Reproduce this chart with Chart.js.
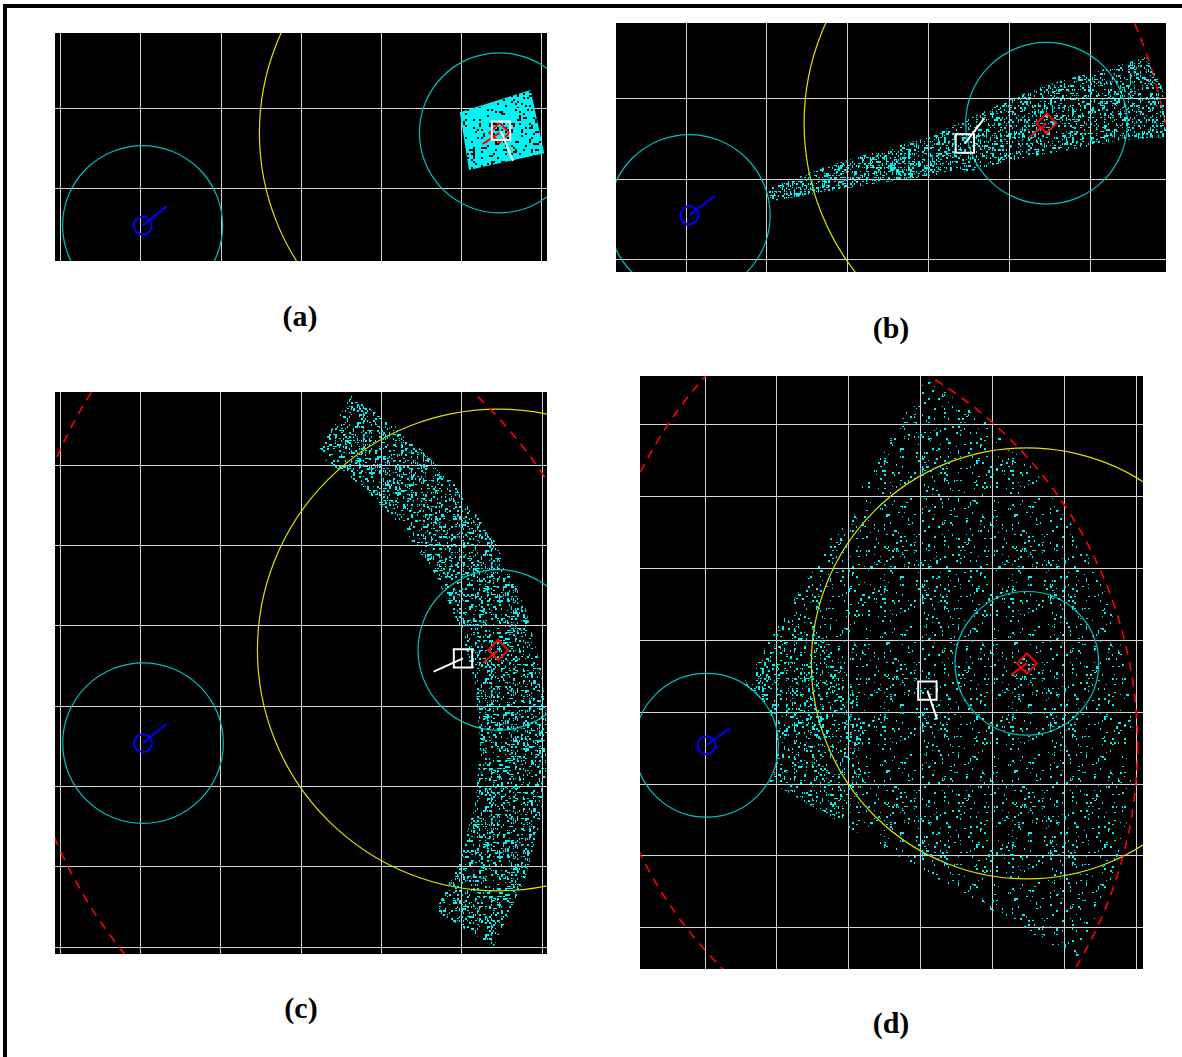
<!DOCTYPE html>
<html>
<head>
<meta charset="utf-8">
<script src="https://cdn.jsdelivr.net/npm/chart.js@4.4.1/dist/chart.umd.min.js"></script>
<style>
  html, body { margin: 0; padding: 0; background: #fff; }
  body { width: 1182px; height: 1057px; position: relative; overflow: hidden; }
  .frame { position: absolute; left: 3px; top: 4px; width: 1179px; height: 1053px;
           border-top: 4px solid #000; border-left: 4px solid #000; box-sizing: border-box; }
  .panel { position: absolute; background: #000; }
  .cap { position: absolute; width: 120px; height: 34px; line-height: 34px; text-align: center;
         font: bold 30px "Liberation Serif", "Times New Roman", serif; color: #000; }
</style>
</head>
<body>
<div class="frame"></div>

<div class="panel" style="left:55px;top:33px;width:492px;height:228px"><canvas id="chartA"></canvas></div>
<div class="panel" style="left:616px;top:23px;width:550px;height:249px"><canvas id="chartB"></canvas></div>
<div class="panel" style="left:55px;top:392px;width:492px;height:562px"><canvas id="chartC"></canvas></div>
<div class="panel" style="left:640px;top:376px;width:503px;height:593px"><canvas id="chartD"></canvas></div>

<div class="cap" style="left:240px;top:299px">(a)</div>
<div class="cap" style="left:831px;top:311px">(b)</div>
<div class="cap" style="left:241px;top:991px">(c)</div>
<div class="cap" style="left:831px;top:1006px">(d)</div>

<script>
// panel extents, in grid units (one grid cell = 1)
const xRanges = [[-0.075, 6.075], [-0.868, 5.939], [-0.066, 6.061], [-0.905, 6.096]];
const yRanges = [[-0.9125, 1.9375], [-1.151, 1.931], [-3.086, 3.913], [-3.574, 4.679]];
const gridX = [[0, 1, 2, 3, 4, 5, 6], [0, 1, 2, 3, 4, 5], [0, 1, 2, 3, 4, 5, 6], [0, 1, 2, 3, 4, 5, 6]];
const gridY = [[0, 1], [-1, 0, 1], [-3, -2, -1, 0, 1, 2, 3], [-3, -2, -1, 0, 1, 2, 3, 4]];

// own ship (blue) and its heading tip
const shipPos = [[1.02, -0.47], [0.04, -0.45], [1.03, -0.46], [0.02, -0.46]];
const shipHead = [[1.32, -0.23], [0.35, -0.21], [1.33, -0.215], [0.34, -0.225]];
// target (red diamond) and its heading tip
const targetPos = [[5.48, 0.69], [4.46, 0.69], [5.455, 0.70], [4.48, 0.68]];
const targetHead = [[5.27, 0.55], [4.25, 0.52], [5.265, 0.54], [4.26, 0.52]];
// estimate (white square) and its heading tip
const estPos = [[5.50, 0.715], [3.45, 0.44], [5.015, 0.595], [3.095, 0.30]];
const estHead = [[5.65, 0.34], [3.69, 0.75], [4.65, 0.43], [3.23, -0.10]];

// ring radii
const sensorRadius = 1;
const alertRadius = 3;
const rangeRadius = 6;

// particle clouds (outlines)
const cloudA = [[4.985, 0.946], [5.87, 1.225], [6.04, 0.434], [5.10, 0.225]];
const cloudB = [[1.025, -0.115], [1.69, 0.14], [2.38, 0.35], [2.98, 0.51], [3.53, 0.76], [3.99, 0.98],
  [4.45, 1.16], [4.91, 1.29], [5.37, 1.41], [5.69, 1.51], [5.83, 1.27], [5.94, 1.02],
  [5.94, 0.52], [5.37, 0.48], [4.91, 0.39], [4.45, 0.31], [3.99, 0.22], [3.53, 0.10],
  [2.98, 0.03], [2.38, -0.05], [1.69, -0.16], [1.025, -0.28]];
const cloudBCore = [[1.025, -0.115], [1.69, 0.14], [2.38, 0.35], [2.98, 0.51],
  [2.98, 0.03], [2.38, -0.05], [1.69, -0.16], [1.025, -0.28]];
const cloudC = [[5.40, -2.99], [5.78, -2.19], [6.00, -1.34], [6.08, -0.46], [6.00, 0.42], [5.78, 1.27],
  [5.40, 2.07], [4.90, 2.79], [4.28, 3.41], [3.63, 3.87],
  [3.19, 3.14], [3.73, 2.76], [4.25, 2.24], [4.67, 1.64], [4.98, 0.98], [5.17, 0.27],
  [5.23, -0.46], [5.17, -1.19], [4.98, -1.90], [4.67, -2.56]];
const cloudD = [[5.17, -3.44], [5.61, -2.50], [5.88, -1.50], [5.97, -0.46], [5.88, 0.575], [5.61, 1.575],
  [5.17, 2.515], [4.58, 3.37], [3.85, 4.10], [3.08, 4.64],
  [0.535, 0.397], [0.786, 0.183], [0.96, -0.118], [1.02, -0.46], [0.96, -0.80], [0.886, -0.96]];
const cloudDCore = [[1.93, -1.56], [2.15, -1.03], [2.22, -0.46], [2.15, 0.11], [1.93, 0.64], [1.58, 1.10], [1.15, 1.43],
  [0.535, 0.397], [0.786, 0.183], [0.96, -0.118], [1.02, -0.46], [0.96, -0.80], [0.886, -0.96]];

const clouds = [[cloudA], [cloudB, cloudBCore], [cloudC], [cloudD, cloudDCore]];
const cloudDensity = [[0.86], [0.36, 0.2], [0.32], [0.1, 0.14]];

const canvasIds = ['chartA', 'chartB', 'chartC', 'chartD'];

const pts = arr => arr.map(p => ({ x: p[0], y: p[1] }));

// speckle texture for the particle clouds (fixed integer hash, no randomness)
function hash(k) {
  let h = k | 0;
  h ^= h >>> 16;
  h = Math.imul(h, 0x85ebca6b);
  h ^= h >>> 13;
  h = Math.imul(h, 0xc2b2ae35);
  h ^= h >>> 16;
  return (h >>> 0) / 4294967296;
}

function speckle(density, seed) {
  const n = 64;
  const solid = density > 0.6;
  const tile = document.createElement('canvas');
  tile.width = n * 2; tile.height = n * 2;
  const c = tile.getContext('2d');
  c.fillStyle = '#00f4f4';
  for (let i = 0; i < n; i++) {
    for (let j = 0; j < n; j++) {
      const k = seed * 100003 + i * n + j;
      if (hash(k) < density) {
        const w = solid || hash(k + 7777777) < 0.5 ? 2 : 1;
        const hgt = solid || hash(k + 3333333) < 0.6 ? 2 : 1;
        c.fillRect(i * 2, j * 2, w, hgt);
      }
    }
  }
  return c.createPattern(tile, 'repeat');
}

// circles drawn through the chart scales
const ringPlugin = {
  id: 'rings',
  beforeDatasetsDraw(chart, args, opts) {
    const { ctx, chartArea, scales: { x, y } } = chart;
    ctx.save();
    ctx.beginPath();
    ctx.rect(chartArea.left, chartArea.top, chartArea.right - chartArea.left, chartArea.bottom - chartArea.top);
    ctx.clip();
    opts.rings.forEach(r => {
      const cx = x.getPixelForValue(r.c[0]);
      const cy = y.getPixelForValue(r.c[1]);
      const rx = Math.abs(x.getPixelForValue(r.c[0] + r.r) - cx);
      const ry = Math.abs(y.getPixelForValue(r.c[1] + r.r) - cy);
      ctx.beginPath();
      ctx.setLineDash(r.dash || []);
      ctx.strokeStyle = r.color;
      ctx.lineWidth = r.width;
      ctx.ellipse(cx, cy, rx, ry, 0, 0, Math.PI * 2);
      ctx.stroke();
    });
    ctx.restore();
  }
};

function segment(a, b, color, order) {
  return { data: pts([a, b]), showLine: true, borderColor: color, borderWidth: 2,
           pointRadius: 0, fill: false, order: order };
}

function marker(p, color, style, radius, rotation, order) {
  return { data: pts([p]), showLine: false, pointStyle: style, pointRadius: radius,
           pointRotation: rotation, pointBorderColor: color, pointBackgroundColor: 'rgba(0,0,0,0)',
           pointBorderWidth: 2, order: order };
}

canvasIds.forEach((id, i) => {
  const datasets = [];
  clouds[i].forEach((poly, k) => {
    datasets.push({
      data: pts(poly.concat([poly[0]])), showLine: true, fill: 'shape',
      backgroundColor: speckle(cloudDensity[i][k], i * 10 + k + 1),
      borderColor: 'rgba(0,0,0,0)', borderWidth: 0,
      pointRadius: 0, tension: 0, order: 10
    });
  });
  datasets.push(segment(shipPos[i], shipHead[i], '#0000ff', 3));
  datasets.push(marker(shipPos[i], '#0000ff', 'circle', 9, 0, 3));
  datasets.push(segment(targetPos[i], targetHead[i], '#ff0000', 2));
  datasets.push(marker(targetPos[i], '#ff0000', 'rectRot', 10, 0, 2));
  datasets.push(segment(estPos[i], estHead[i], '#ffffff', 1));
  datasets.push(marker(estPos[i], '#ffffff', 'rect', 13, 0, 1));

  const rings = [
    { c: shipPos[i], r: sensorRadius, color: '#00c0c0', width: 1.2 },
    { c: targetPos[i], r: sensorRadius, color: '#00c0c0', width: 1.2 },
    { c: targetPos[i], r: alertRadius, color: '#e0e000', width: 1.2 },
    { c: targetPos[i], r: rangeRadius, color: '#ff0000', width: 1.6, dash: [9, 7] },
    { c: shipPos[i], r: rangeRadius, color: '#ff0000', width: 1.6, dash: [9, 7] }
  ];

  const axis = (range, grid) => ({
    type: 'linear', min: range[0], max: range[1],
    ticks: { display: false },
    border: { display: false },
    grid: { color: '#d4d4d4', lineWidth: 1, drawTicks: false },
    afterBuildTicks: s => { s.ticks = grid.map(v => ({ value: v })); }
  });

  new Chart(document.getElementById(id), {
    type: 'scatter',
    data: { datasets },
    options: {
      responsive: true,
      maintainAspectRatio: false,
      animation: false,
      layout: { padding: 0, autoPadding: false },
      scales: { x: axis(xRanges[i], gridX[i]), y: axis(yRanges[i], gridY[i]) },
      plugins: { legend: { display: false }, tooltip: { enabled: false }, rings: { rings } }
    },
    plugins: [ringPlugin]
  });
});
</script>
</body>
</html>
